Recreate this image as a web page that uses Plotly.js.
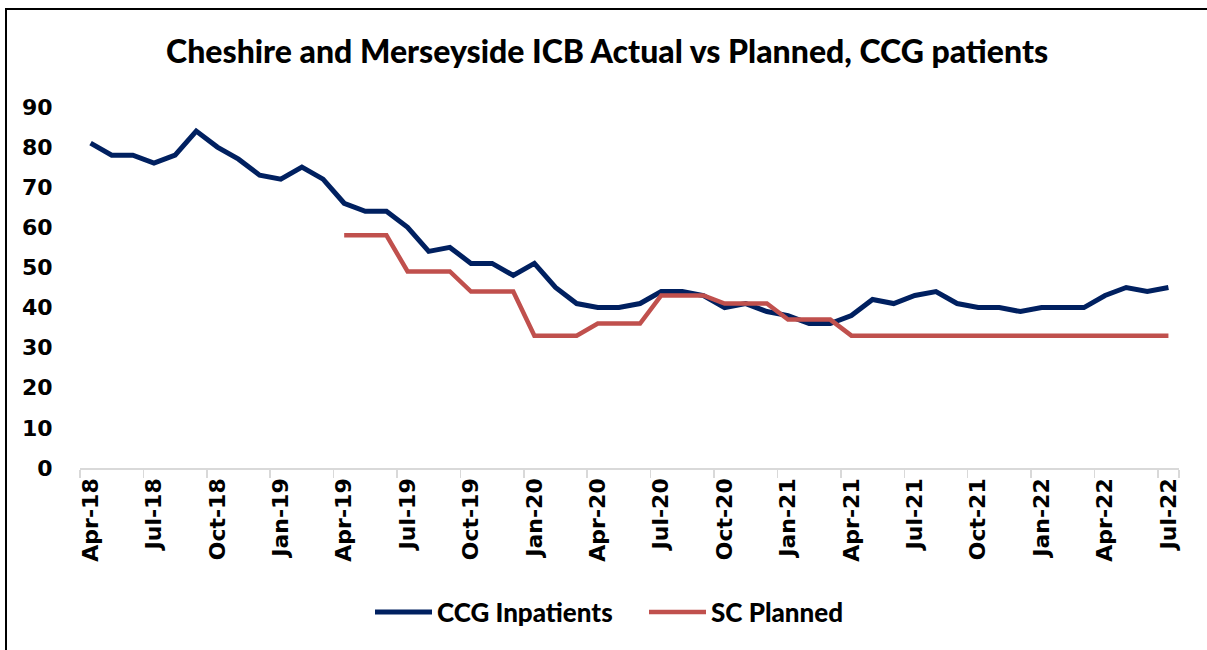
<!DOCTYPE html>
<html>
<head>
<meta charset="utf-8">
<script src="https://cdn.plot.ly/plotly-3.0.1.min.js"></script>
<style>
  html, body { margin: 0; padding: 0; background: #fff; }
  #wrap { position: relative; width: 1207px; height: 650px; overflow: hidden; }
  #chart { width: 1207px; height: 650px; }
  #frame { position: absolute; left: 5px; top: 8px; width: 1220px; height: 700px;
           border-left: 2px solid #000; border-top: 2px solid #000; pointer-events: none; }
</style>
</head>
<body>
<div id="wrap">
  <div id="chart"></div>
  <div id="frame"></div>
</div>
<script>
const months = [
  "Apr-18","May-18","Jun-18","Jul-18","Aug-18","Sep-18","Oct-18","Nov-18","Dec-18",
  "Jan-19","Feb-19","Mar-19","Apr-19","May-19","Jun-19","Jul-19","Aug-19","Sep-19","Oct-19","Nov-19","Dec-19",
  "Jan-20","Feb-20","Mar-20","Apr-20","May-20","Jun-20","Jul-20","Aug-20","Sep-20","Oct-20","Nov-20","Dec-20",
  "Jan-21","Feb-21","Mar-21","Apr-21","May-21","Jun-21","Jul-21","Aug-21","Sep-21","Oct-21","Nov-21","Dec-21",
  "Jan-22","Feb-22","Mar-22","Apr-22","May-22","Jun-22","Jul-22"
];
const ccgInpatients = [
  81,78,78,76,78,84,80,77,73,
  72,75,72,66,64,64,60,54,55,51,51,48,
  51,45,41,40,40,41,44,44,43,40,41,39,
  38,36,36,38,42,41,43,44,41,40,40,39,
  40,40,40,43,45,44,45
];
const scPlanned = [
  null,null,null,null,null,null,null,null,null,
  null,null,null,58,58,58,49,49,49,44,44,44,
  33,33,33,36,36,36,43,43,43,41,41,41,
  37,37,37,33,33,33,33,33,33,33,33,33,
  33,33,33,33,33,33,33
];
const tickLabels = ["Apr-18","Jul-18","Oct-18","Jan-19","Apr-19","Jul-19","Oct-19","Jan-20","Apr-20",
  "Jul-20","Oct-20","Jan-21","Apr-21","Jul-21","Oct-21","Jan-22","Apr-22","Jul-22"];

const tickFont = {family: "DejaVu Sans", size: 22, color: "#000", weight: "bold"};

const traces = [
  {x: months, y: ccgInpatients, type: "scatter", mode: "lines", name: "CCG Inpatients",
   line: {color: "#002060", width: 5}},
  {x: months, y: scPlanned, type: "scatter", mode: "lines", name: "SC Planned",
   line: {color: "#C0504D", width: 4.5}}
];

const layout = {
  width: 1207, height: 650,
  margin: {l: 80, r: 28, t: 107, b: 182},
  paper_bgcolor: "#fff", plot_bgcolor: "#fff",
  showlegend: true,
  title: {text: "Cheshire and Merseyside ICB Actual vs Planned, CCG patients",
          font: {family: "Lato", size: 32, color: "#000", weight: 900},
          x: 0.503, xanchor: "center", xref: "container",
          y: 1 - 52/650, yanchor: "middle", yref: "container"},
  xaxis: {type: "category", categoryorder: "array", categoryarray: months,
          range: [-0.5, 51.5], tickmode: "array", tickvals: tickLabels, ticktext: tickLabels,
          tickson: "boundaries", ticks: "outside", ticklen: 8, tickcolor: "#d9d9d9", tickwidth: 1.5,
          showline: true, linecolor: "#d9d9d9", linewidth: 1.5, showgrid: false, zeroline: false,
          tickangle: -90, tickfont: tickFont, fixedrange: true},
  yaxis: {range: [0, 90], dtick: 10, tick0: 0, showgrid: false, zeroline: false, showline: false,
          ticks: "outside", ticklen: 22, tickcolor: "rgba(0,0,0,0)", tickfont: tickFont, fixedrange: true},
  legend: {orientation: "h", x: (370 - 80) / 1099, xanchor: "left", y: (468 - 612) / 361, yanchor: "middle",
           font: {family: "Lato", size: 26, color: "#000", weight: 900},
           itemwidth: 57, entrywidth: 202, entrywidthmode: "pixels",
           traceorder: "normal", bgcolor: "rgba(0,0,0,0)"}
};

Plotly.newPlot("chart", traces, layout, {displayModeBar: false, staticPlot: true});
</script>
</body>
</html>
